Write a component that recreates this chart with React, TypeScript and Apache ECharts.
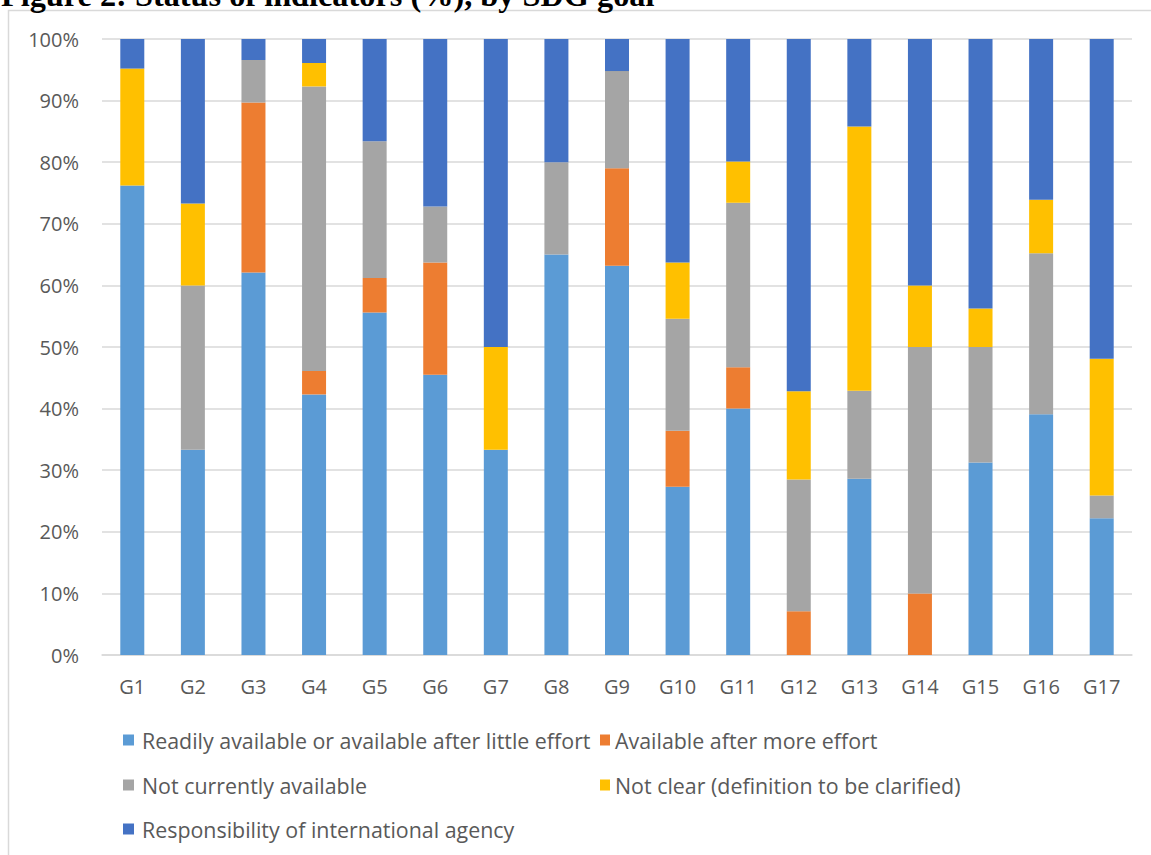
import React, { useEffect, useRef } from "react";
import * as echarts from "echarts";

const categories = ["G1","G2","G3","G4","G5","G6","G7","G8","G9","G10","G11","G12","G13","G14","G15","G16","G17"];
const seriesNames = [
  "Readily available or available after little effort",
  "Available after more effort",
  "Not currently available",
  "Not clear (definition to be clarified)",
  "Responsibility of international agency",
];
const readily =     [76.2, 33.3, 62.1, 42.3, 55.6, 45.5, 33.3, 65.0, 63.2, 27.3, 40.0, 0.0, 28.6, 0.0, 31.25, 39.1, 22.2];
const moreEffort =  [0.0, 0.0, 27.6, 3.8, 5.6, 18.2, 0.0, 0.0, 15.8, 9.1, 6.7, 7.1, 0.0, 10.0, 0.0, 0.0, 0.0];
const notAvailable = [0.0, 26.7, 6.9, 46.2, 22.2, 9.1, 0.0, 15.0, 15.8, 18.2, 26.7, 21.4, 14.3, 40.0, 18.75, 26.1, 3.7];
const notClear =    [19.0, 13.3, 0.0, 3.8, 0.0, 0.0, 16.7, 0.0, 0.0, 9.1, 6.7, 14.3, 42.9, 10.0, 6.25, 8.7, 22.2];
const intlAgency =  [4.8, 26.7, 3.4, 3.9, 16.7, 27.3, 50.0, 20.0, 5.3, 36.4, 20.0, 57.2, 14.3, 40.0, 43.75, 26.1, 51.9];
const yTicks = [0, 10, 20, 30, 40, 50, 60, 70, 80, 90, 100];

const colors = ["#5B9BD5", "#ED7D31", "#A5A5A5", "#FFC000", "#4472C4"];
const values = [readily, moreEffort, notAvailable, notClear, intlAgency];

export default function App() {
  const ref = useRef<HTMLDivElement>(null);
  useEffect(() => {
    if (!ref.current) return;
    const chart = echarts.init(ref.current, null, { renderer: "svg" });
    const font = "Open Sans";
    const legendPos = [
      { left: 123, top: 728 },
      { left: 600, top: 728 },
      { left: 123, top: 773 },
      { left: 600, top: 773 },
      { left: 123, top: 817 },
    ];
    chart.setOption({
      animation: false,
      color: colors,
      textStyle: { fontFamily: font },
      grid: { left: 102, right: 19, top: 39, bottom: 200, containLabel: false },
      graphic: [
        {
          type: "rect",
          shape: { x: 8.5, y: 10.5, width: 1200, height: 900 },
          style: { fill: "none", stroke: "#d9d9d9", lineWidth: 1.5 },
          silent: true,
        },
        {
          type: "text",
          x: 1,
          y: -5,
          style: {
            text: "Figure 2: Status of indicators (%), by SDG goal",
            font: "bold 32.3px 'Liberation Serif', 'Times New Roman', serif",
            fill: "#000",
            verticalAlign: "middle",
          },
        },
      ],
      legend: seriesNames.map((n, i) => ({
        data: [n],
        left: legendPos[i].left,
        top: legendPos[i].top,
        padding: 0,
        itemWidth: i % 2 === 0 ? 11 : 10,
        itemHeight: 11,
        icon: "rect",
        selectedMode: false,
        textStyle: { fontFamily: font, fontSize: 21.4, color: "#595959", lineHeight: 24, padding: [0, 0, 0, i % 2 === 0 ? 3 : 0] },
      })),
      xAxis: {
        type: "category",
        data: categories,
        axisLine: { lineStyle: { color: "#d9d9d9", width: 1.5 } },
        axisTick: { show: false },
        axisLabel: { color: "#595959", fontSize: 20, fontFamily: font, margin: 21 },
      },
      yAxis: {
        type: "value",
        min: yTicks[0],
        max: yTicks[yTicks.length - 1],
        interval: 10,
        axisLine: { show: false },
        axisTick: { show: false },
        splitLine: { lineStyle: { color: "#d9d9d9", width: 1.5 } },
        axisLabel: { color: "#595959", fontSize: 20, fontFamily: font, margin: 23, formatter: (v: number) => v + "%" },
      },
      series: seriesNames.map((n, i) => ({
        name: n,
        type: "bar",
        stack: "total",
        barWidth: 24,
        data: values[i],
        itemStyle: { color: colors[i] },
      })),
    });
    return () => chart.dispose();
  }, []);
  return <div ref={ref} style={{ position: "fixed", left: 0, top: 0, width: 1151, height: 855, background: "#fff" }} />;
}
